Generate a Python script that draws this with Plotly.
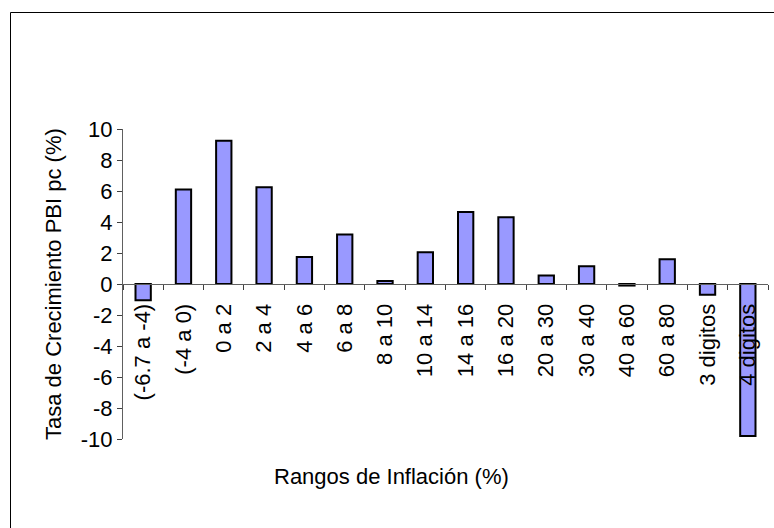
import plotly.graph_objects as go

# Inflation ranges and average per-capita GDP growth in each range
rangos = ["(-6.7 a -4)", "(-4 a 0)", "0 a 2", "2 a 4", "4 a 6", "6 a 8", "8 a 10",
          "10 a 14", "14 a 16", "16 a 20", "20 a 30", "30 a 40", "40 a 60",
          "60 a 80", "3 digitos", "4 digitos"]
crecimiento = [-1.05, 6.1, 9.25, 6.25, 1.75, 3.2, 0.2, 2.05, 4.65, 4.3, 0.55,
               1.15, -0.1, 1.6, -0.7, -9.8]
y_ticks = [-10, -8, -6, -4, -2, 0, 2, 4, 6, 8, 10]

FONT = "Liberation Sans, Arial, sans-serif"

fig = go.Figure(
    go.Bar(
        x=rangos,
        y=crecimiento,
        marker=dict(color="#9999FF", line=dict(color="#000000", width=2)),
        hoverinfo="x+y",
    )
)

fig.update_layout(
    width=774,
    height=528,
    margin=dict(l=123, r=6, t=129, b=89),
    paper_bgcolor="white",
    plot_bgcolor="white",
    showlegend=False,
    bargap=0.62,
    font=dict(family=FONT, size=22, color="#000000"),
    xaxis=dict(
        type="category",
        range=[-0.5, len(rangos) - 0.5],
        anchor="free",
        position=0.5,
        showline=True,
        linecolor="#606060",
        linewidth=1,
        ticks="outside",
        tickson="boundaries",
        ticklen=5,
        tickcolor="#404040",
        tickangle=-90,
        ticklabelstandoff=10,
        tickfont=dict(family=FONT, size=22, color="#000000"),
        showgrid=False,
        zeroline=False,
        layer="above traces",
    ),
    yaxis=dict(
        range=[-10, 10],
        tickvals=y_ticks,
        ticktext=[str(v) for v in y_ticks],
        showline=True,
        linecolor="#606060",
        linewidth=1,
        ticks="outside",
        ticklen=5,
        tickcolor="#404040",
        tickfont=dict(family=FONT, size=22, color="#000000"),
        showgrid=False,
        zeroline=False,
    ),
    annotations=[
        dict(
            text="Rangos de Inflación (%)",
            xref="paper", yref="paper",
            x=(391.5 - 123) / 645, y=(439 - 476) / 310,
            xanchor="center", yanchor="middle",
            showarrow=False,
            font=dict(family=FONT, size=22, color="#000000"),
        ),
        dict(
            text="Tasa de Crecimiento PBI pc (%)",
            xref="paper", yref="paper",
            x=(53 - 123) / 645, y=0.5,
            xanchor="center", yanchor="middle",
            textangle=-90,
            showarrow=False,
            font=dict(family=FONT, size=22, color="#000000"),
        ),
    ],
    shapes=[
        # outer frame around the chart area
        dict(
            type="rect", xref="paper", yref="paper",
            x0=(10.5 - 123) / 645, x1=1.2,
            y0=-0.6, y1=(439 - 12.5) / 310,
            line=dict(color="#000000", width=1),
            fillcolor="rgba(0,0,0,0)",
            layer="below",
        )
    ],
)

fig.write_html("out.html")
